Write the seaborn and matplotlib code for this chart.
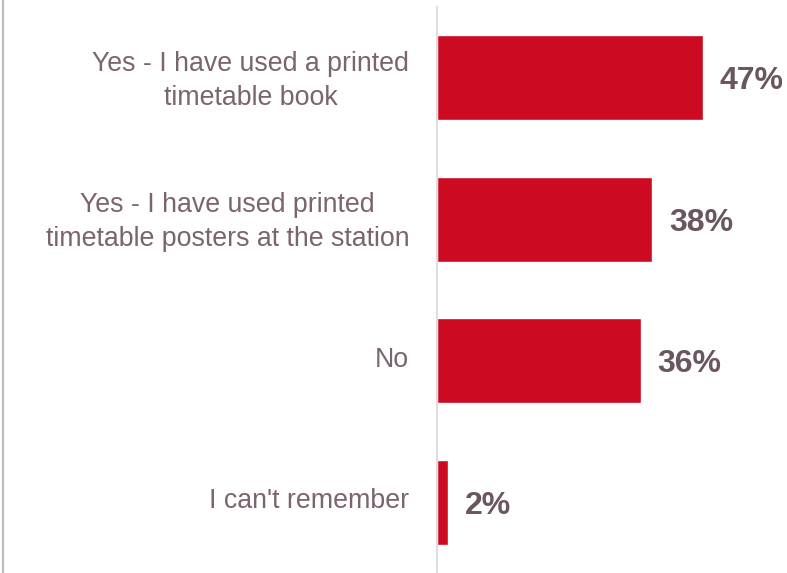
import matplotlib
matplotlib.use("Agg")
import matplotlib.pyplot as plt
import matplotlib.transforms as mtransforms
import seaborn as sns
import pandas as pd
from matplotlib.lines import Line2D

categories = [
    "Yes - I have used a printed\ntimetable book",
    "Yes - I have used printed\ntimetable posters at the station",
    "No",
    "I can't remember",
]
values = [47, 38, 36, 2]

df = pd.DataFrame({"answer": categories, "share": values})

sns.set_theme(style="white")
plt.rcParams["font.family"] = ["Liberation Sans", "DejaVu Sans"]

W, H = 787, 573
fig = plt.figure(figsize=(W / 100, H / 100), dpi=100)
ax = fig.add_axes([437 / W, 0.0, 340 / W, 566 / H])

sns.barplot(data=df, x="share", y="answer", orient="h", color="#CC0A21",
            saturation=1, width=0.6, ax=ax)

ax.set_xlim(0, 60)
ax.set_ylim(3.5, -0.5)
ax.set_xlabel("")
ax.set_ylabel("")
ax.set_xticks([])
ax.tick_params(axis="y", length=0, pad=20)
nudge = mtransforms.ScaledTranslation(0, 4 / 100, fig.dpi_scale_trans)
for lbl in ax.get_yticklabels():
    lbl.set_fontsize(19.3)
    lbl.set_color("#7B6470")
    lbl.set_horizontalalignment("right")
    lbl.set_multialignment("center")
    lbl.set_linespacing(1.4)
    lbl.set_transform(lbl.get_transform() + nudge)

for s in ["top", "right", "bottom"]:
    ax.spines[s].set_visible(False)
ax.spines["left"].set_color("#E2DCDF")
ax.spines["left"].set_linewidth(1.5)

value_texts = ax.bar_label(ax.containers[0], labels=[f"{v}%" for v in values],
                           padding=12, fontsize=23, fontweight="bold",
                           color="#6A5660")
for t in value_texts:
    t.set_verticalalignment("center_baseline")

fig.add_artist(Line2D([2.5 / W, 2.5 / W], [0, 1], transform=fig.transFigure,
                      color="#BDBDBD", linewidth=1.6))

fig.savefig("out.png", dpi=100)
